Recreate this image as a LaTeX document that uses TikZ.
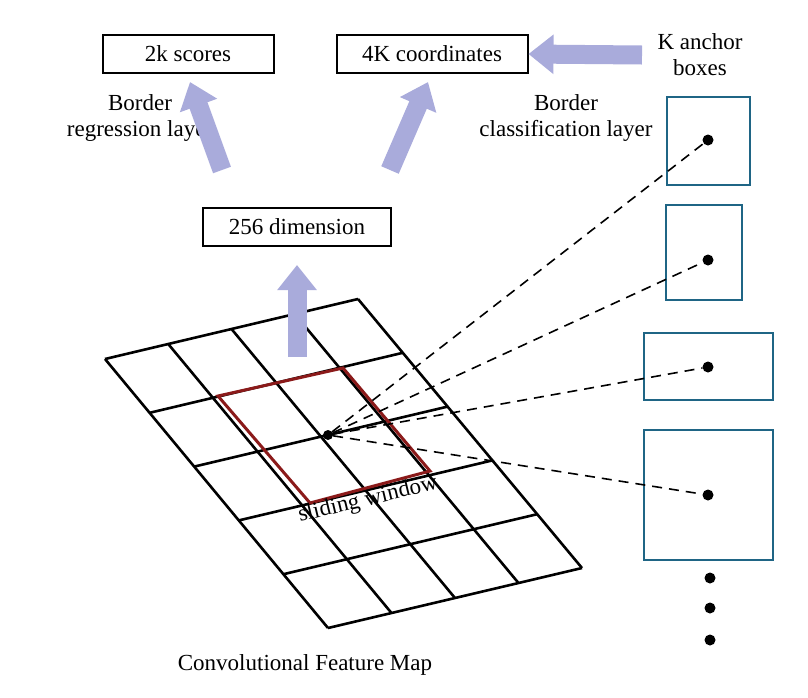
\documentclass[tikz,border=0pt]{standalone}
\usepackage{fontspec}
\setmainfont{Liberation Serif}
\usetikzlibrary{arrows.meta,calc}
\definecolor{arr}{HTML}{A9ABDB}
\definecolor{teal}{HTML}{1F6585}
\definecolor{win}{HTML}{8B1A1A}
\tikzset{
 lbl/.style={font=\fontsize{23}{26}\selectfont, align=center},
 tbox/.style={lbl, draw, line width=2pt, minimum height=38pt, inner xsep=8pt},
 fat/.style={arr, line width=19pt, -{Triangle[width=38pt,length=25pt]}},
 anc/.style={draw=teal, line width=2.5pt},
 dashl/.style={dashed, dash pattern=on 10pt off 7pt, line width=1.6pt},
 dotn/.style={circle, fill=black, inner sep=0pt, minimum size=11pt},
}
\begin{document}
\begin{tikzpicture}[x=1pt,y=-1pt]
\useasboundingbox (0,0) rectangle (808,697);
% grid
\coordinate (TL) at (105,359);
\coordinate (TR) at (358,299);
\coordinate (BL) at (328,628);
\coordinate (BR) at (582,568);
\foreach \u in {0,...,4}{
  \draw[line width=2.6pt] ($(TL)!\u/4!(TR)$) -- ($(BL)!\u/4!(BR)$);
}
\foreach \v in {0,...,5}{
  \draw[line width=2.6pt] ($(TL)!\v/5!(BL)$) -- ($(TR)!\v/5!(BR)$);
}
\draw[win, line width=3pt] (218,396) -- (343,368) -- (430,471) -- (310,503) -- cycle;
\node[lbl, rotate=13.5] (sw) at (368,500) {sliding window};
\node[dotn, minimum size=10pt] (c) at (328,435) {};
% boxes
\node[tbox, minimum width=171pt] (s) at (188,54) {2k scores};
\node[tbox, minimum width=191pt] (k) at (432,54) {4K coordinates};
\node[tbox, minimum width=188pt] (d) at (297,227) {256 dimension};
\node[lbl] (ka) at (700,55) {K anchor\\boxes};
\node[lbl] (br) at (140,118) {Border\\regression layer};
\node[lbl] (bc) at (566,118) {Border\\classification layer};
\node[lbl] (cf) at (305,665) {Convolutional Feature Map};
% fat arrows
\coordinate (a1) at (297,357); \coordinate (a1e) at (297,265);
\draw[fat] (a1) -- (a1e);
\coordinate (a2) at (222,170); \coordinate (a2e) at (190,82);
\draw[fat] (a2) -- (a2e);
\coordinate (a3) at (390,170); \coordinate (a3e) at (428,82);
\draw[fat] (a3) -- (a3e);
\coordinate (a4) at (642,55);
\draw[fat] (a4) -- (k.east);
% anchors
\draw[anc] (667,97) rectangle (750,185);
\draw[anc] (666,205) rectangle (742,300);
\draw[anc] (644,333) rectangle (773,400);
\draw[anc] (644,430) rectangle (773,560);
\node[dotn] (p1) at (708,140) {};
\node[dotn] (p2) at (708,260) {};
\node[dotn] (p3) at (708,367) {};
\node[dotn] (p4) at (708,495) {};
\foreach \p in {p1,p2,p3,p4}{\draw[dashl] (c) -- (\p);}
\node[dotn] (e1) at (710,578) {};
\node[dotn] (e2) at (710,608) {};
\node[dotn] (e3) at (710,640) {};
\end{tikzpicture}
\end{document}
